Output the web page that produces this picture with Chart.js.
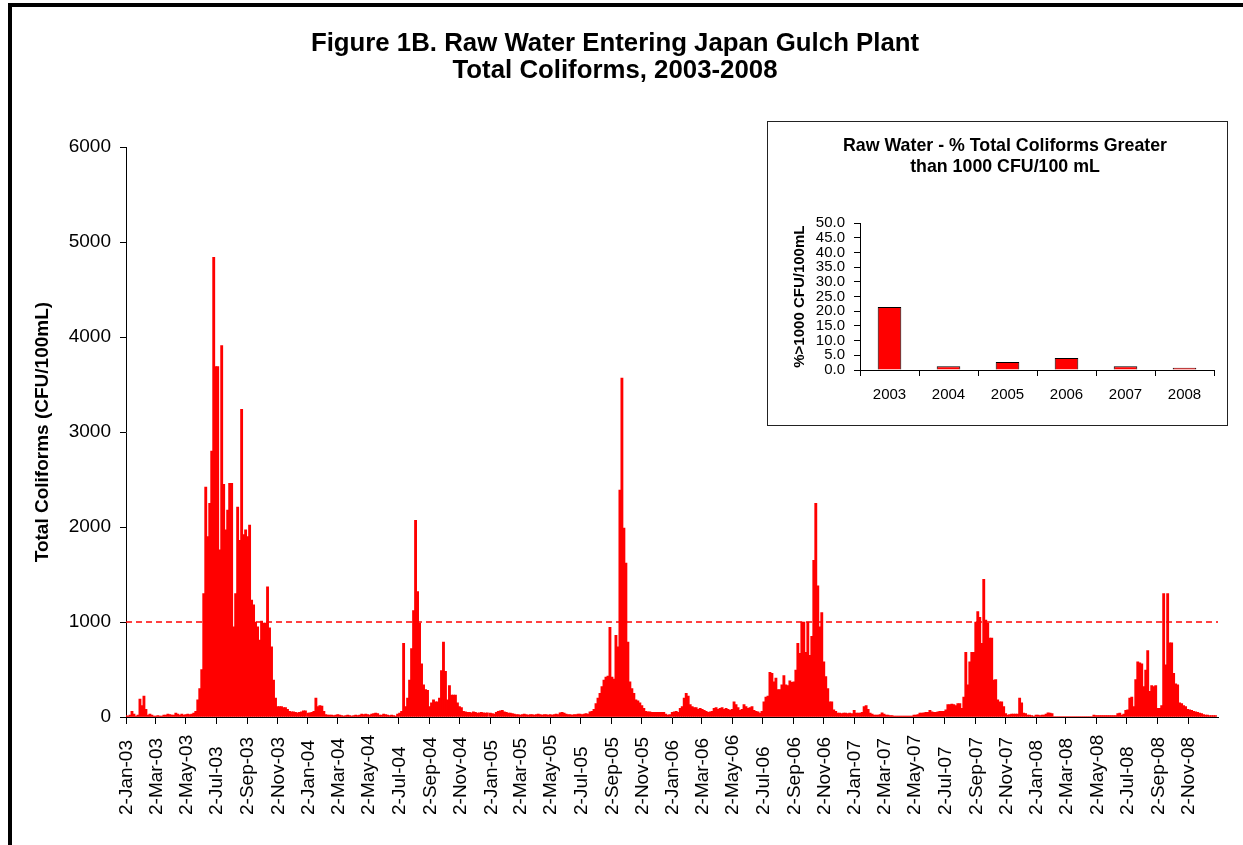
<!DOCTYPE html>
<html>
<head>
<meta charset="utf-8">
<script src="https://cdn.jsdelivr.net/npm/chart.js@4.4.1/dist/chart.umd.min.js"></script>
<style>
  body { margin: 0; background: #fff; overflow: hidden; }
  #wrap { position: relative; width: 1243px; height: 845px; overflow: hidden; }
  #frame { position: absolute; left: 8px; top: 3px; width: 1300px; height: 900px;
           border-left: 4px solid #000; border-top: 4px solid #000; }
  #main { position: absolute; left: 0; top: 0; }
  #insetBox { position: absolute; left: 767px; top: 121px; width: 459px; height: 303px;
              border: 1px solid #222; background: #fff; }
</style>
</head>
<body>
<div id="wrap">
  <div id="frame"></div>
  <canvas id="main" width="1243" height="845"></canvas>
  <div id="insetBox"><canvas id="inset" width="459" height="303"></canvas></div>
</div>
<script>
// raw water total coliforms (CFU/100mL), one reading every 4 days from 2 Jan of each year
const stepDays = 4;
const tc2003 = [15, 10, 20, 60, 30, 10, 20, 190, 120, 220,
  80, 20, 30, 20, 10, 10, 15, 10, 10, 20,
  20, 30, 25, 20, 20, 40, 30, 20, 30, 20,
  25, 30, 25, 30, 40, 60, 180, 300, 500, 1300,
  2420, 1900, 2250, 2800, 4840, 3690, 3690, 1760, 3910, 2450,
  1970, 2180, 2460, 2460, 950, 1300, 2210, 1860, 3240, 1920,
  1970, 1900, 2020, 1230, 1180, 1000, 950, 810, 1010, 990,
  990, 1370, 940, 740, 390, 200, 110, 110, 110, 100,
  100, 80, 60, 55, 55, 50, 45, 50, 55, 65, 65];
const tc2004 = [40, 45, 50, 60, 200, 110, 120, 115, 60, 25,
  20, 20, 20, 15, 20, 25, 20, 15, 10, 15,
  20, 15, 10, 15, 20, 15, 20, 30, 25, 30,
  25, 20, 30, 35, 40, 35, 20, 20, 30, 25,
  20, 15, 20, 15, 10, 30, 40, 60, 775, 110,
  200, 390, 720, 1120, 2070, 1320, 990, 560, 340, 290,
  280, 110, 150, 180, 160, 160, 200, 490, 790, 480,
  180, 330, 230, 230, 230, 150, 110, 100, 60, 55,
  50, 50, 45, 55, 50, 40, 45, 50, 45, 40, 45];
const tc2005 = [40, 35, 30, 50, 60, 65, 70, 55, 50, 40,
  40, 35, 30, 25, 25, 20, 25, 30, 25, 20,
  25, 25, 20, 25, 30, 25, 20, 25, 25, 20,
  25, 20, 25, 30, 25, 45, 50, 40, 30, 25,
  25, 20, 25, 25, 30, 30, 25, 30, 35, 30,
  55, 60, 80, 140, 200, 250, 320, 390, 420, 430,
  945, 420, 400, 860, 740, 2390, 3570, 1990, 1620, 790,
  370, 300, 250, 180, 170, 150, 120, 90, 60, 55,
  55, 50, 50, 50, 50, 50, 50, 50, 30, 20, 25];
const tc2006 = [50, 55, 60, 50, 90, 110, 200, 250, 220, 130,
  110, 100, 100, 80, 90, 80, 70, 60, 50, 55,
  60, 90, 100, 80, 90, 100, 80, 90, 80, 70,
  80, 160, 130, 100, 70, 80, 130, 110, 90, 100,
  110, 70, 60, 55, 40, 60, 160, 210, 220, 470,
  460, 370, 410, 290, 290, 340, 435, 340, 330, 380,
  365, 370, 495, 775, 670, 1000, 1000, 680, 1000, 650,
  850, 1650, 2250, 1380, 950, 1100, 580, 425, 300, 160,
  160, 75, 60, 40, 40, 35, 40, 40, 35, 40, 35];
const tc2007 = [70, 40, 40, 40, 50, 110, 120, 80, 40, 30,
  20, 20, 20, 25, 45, 30, 20, 20, 15, 15,
  10, 10, 10, 10, 10, 10, 10, 10, 10, 10,
  20, 20, 25, 40, 40, 45, 50, 50, 70, 55,
  50, 50, 55, 60, 60, 60, 75, 130, 130, 135,
  130, 120, 140, 140, 90, 210, 680, 340, 580, 680,
  680, 1000, 1110, 1050, 775, 1450, 1020, 990, 830, 830,
  390, 395, 180, 160, 160, 110, 35, 20, 25, 30,
  30, 30, 30, 200, 150, 40, 35, 20, 20, 15, 10];
const tc2008 = [20, 20, 15, 20, 20, 30, 45, 40, 35, 5,
  5, 5, 5, 5, 5, 5, 5, 5, 5, 5,
  5, 5, 5, 5, 5, 5, 5, 5, 5, 20,
  15, 15, 15, 15, 15, 15, 15, 15, 15, 15,
  15, 35, 40, 20, 30, 70, 75, 200, 210, 110,
  395, 580, 570, 560, 320, 495, 700, 270, 330, 320,
  330, 90, 90, 120, 1300, 550, 1300, 780, 780, 460,
  350, 340, 150, 140, 120, 110, 80, 75, 70, 60,
  55, 50, 40, 35, 25, 20, 20, 15, 15, 15, 15];
const seriesYears = [2003, 2004, 2005, 2006, 2007, 2008];
const seriesValues = [tc2003, tc2004, tc2005, tc2006, tc2007, tc2008];

const tickLabels = ["2-Jan-03", "2-Mar-03", "2-May-03", "2-Jul-03", "2-Sep-03", "2-Nov-03",
  "2-Jan-04", "2-Mar-04", "2-May-04", "2-Jul-04", "2-Sep-04", "2-Nov-04",
  "2-Jan-05", "2-Mar-05", "2-May-05", "2-Jul-05", "2-Sep-05", "2-Nov-05",
  "2-Jan-06", "2-Mar-06", "2-May-06", "2-Jul-06", "2-Sep-06", "2-Nov-06",
  "2-Jan-07", "2-Mar-07", "2-May-07", "2-Jul-07", "2-Sep-07", "2-Nov-07",
  "2-Jan-08", "2-Mar-08", "2-May-08", "2-Jul-08", "2-Sep-08", "2-Nov-08"];
const limitValue = 1000;

// inset: % of samples above 1000 CFU/100 mL
const insetYears = ["2003", "2004", "2005", "2006", "2007", "2008"];
const pctOver = [21.5, 1.3, 2.7, 4.1, 1.3, 0.8];

const monthIdx = {Jan: 0, Feb: 1, Mar: 2, Apr: 3, May: 4, Jun: 5, Jul: 6, Aug: 7, Sep: 8, Oct: 9, Nov: 10, Dec: 11};
const day0 = Date.UTC(2003, 0, 2);
function dayOf(y, m, d) { return Math.round((Date.UTC(y, m, d) - day0) / 86400000); }
const tickDays = tickLabels.map(s => {
  const p = s.split("-");
  return dayOf(2000 + parseInt(p[2], 10), monthIdx[p[1]], parseInt(p[0], 10));
});
const lastDay = dayOf(2008, 11, 31) + 1;

const points = [];
seriesYears.forEach((yr, k) => {
  const start = dayOf(yr, 0, 2);
  seriesValues[k].forEach((v, i) => points.push({x: start + i * stepDays, y: v}));
});

const FONT = "'Liberation Sans', Arial, sans-serif";
Chart.defaults.font.family = FONT;
Chart.defaults.color = "#000";

const dateLabels = {
  id: "dateLabels",
  afterDraw(chart) {
    const xs = chart.scales.x;
    const ctx = chart.ctx;
    ctx.save();
    ctx.fillStyle = "#000";
    ctx.font = "19px " + FONT;
    ctx.textAlign = "left";
    ctx.textBaseline = "middle";
    tickLabels.forEach((lab, k) => {
      ctx.save();
      ctx.translate(xs.getPixelForValue(tickDays[k]) + 1, xs.top + 98);
      ctx.rotate(-Math.PI / 2);
      ctx.fillText(lab, 0, 0);
      ctx.restore();
    });
    ctx.restore();
  }
};

new Chart(document.getElementById("main"), {
  type: "bar",
  data: {
    datasets: [{
      type: "line",
      data: [{x: 0, y: limitValue}, {x: lastDay, y: limitValue}],
      borderColor: "#ff0000",
      borderWidth: 1.4,
      borderDash: [6, 4],
      pointRadius: 0,
      order: 0
    }, {
      data: points,
      backgroundColor: "#ff0000",
      borderWidth: 0,
      barThickness: 2.2,
      order: 1
    }]
  },
  options: {
    responsive: false,
    animation: false,
    layout: {padding: {left: 12, right: 25, top: 30, bottom: 10}},
    plugins: {
      legend: {display: false},
      tooltip: {enabled: false},
      title: {
        display: true,
        text: ["Figure 1B. Raw Water Entering Japan Gulch Plant", "Total Coliforms, 2003-2008"],
        font: {size: 25.8, weight: "bold", lineHeight: 1.05},
        color: "#000",
        padding: {top: 0, bottom: 63}
      }
    },
    scales: {
      x: {
        type: "linear",
        min: 0,
        max: lastDay,
        offset: false,
        afterBuildTicks: ax => { ax.ticks = tickDays.map(v => ({value: v})); },
        afterFit: s => { s.height = 118; },
        ticks: {display: false},
        grid: {offset: false, drawOnChartArea: false, tickLength: 7, color: "#000"},
        border: {color: "#000", width: 1}
      },
      y: {
        min: 0,
        max: 6000,
        afterFit: s => { s.width = 114; },
        ticks: {stepSize: 1000, font: {size: 19}, color: "#000", padding: 9,
                callback: v => String(v)},
        grid: {drawOnChartArea: false, tickLength: 6, color: "#000"},
        border: {color: "#000", width: 1},
        title: {
          display: true,
          text: "Total Coliforms (CFU/100mL)",
          font: {size: 19, weight: "bold"},
          color: "#000",
          padding: {top: 19, bottom: 0}
        }
      }
    }
  },
  plugins: [dateLabels]
});

new Chart(document.getElementById("inset"), {
  type: "bar",
  data: {
    labels: insetYears,
    datasets: [{
      data: pctOver,
      backgroundColor: "#ff0000",
      borderColor: "#000",
      borderWidth: 1,
      barPercentage: 0.8,
      categoryPercentage: 0.5
    }]
  },
  options: {
    responsive: false,
    animation: false,
    layout: {padding: {left: 28, right: 13, top: 14, bottom: 8}},
    plugins: {
      legend: {display: false},
      tooltip: {enabled: false},
      title: {
        display: true,
        text: ["Raw Water - % Total Coliforms Greater", "than 1000 CFU/100 mL"],
        font: {size: 17.8, weight: "bold", lineHeight: 1.16},
        color: "#000",
        padding: {top: 0, bottom: 46}
      }
    },
    scales: {
      x: {
        afterFit: s => { s.height = 47; },
        ticks: {font: {size: 15}, color: "#000", padding: 10},
        grid: {offset: true, drawOnChartArea: false, tickLength: 6, color: "#000"},
        border: {color: "#000", width: 1}
      },
      y: {
        min: 0,
        max: 50,
        afterFit: s => { s.width = 64; },
        ticks: {stepSize: 5, autoSkip: false, font: {size: 15}, color: "#000", padding: 9,
                callback: v => v.toFixed(1)},
        grid: {drawOnChartArea: false, tickLength: 6, color: "#000"},
        border: {color: "#000", width: 1},
        title: {
          display: true,
          text: "%>1000 CFU/100mL",
          font: {size: 15, weight: "bold", lineHeight: 0.5},
          color: "#000",
          padding: {top: 0, bottom: 0}
        }
      }
    }
  }
});
</script>
</body>
</html>
